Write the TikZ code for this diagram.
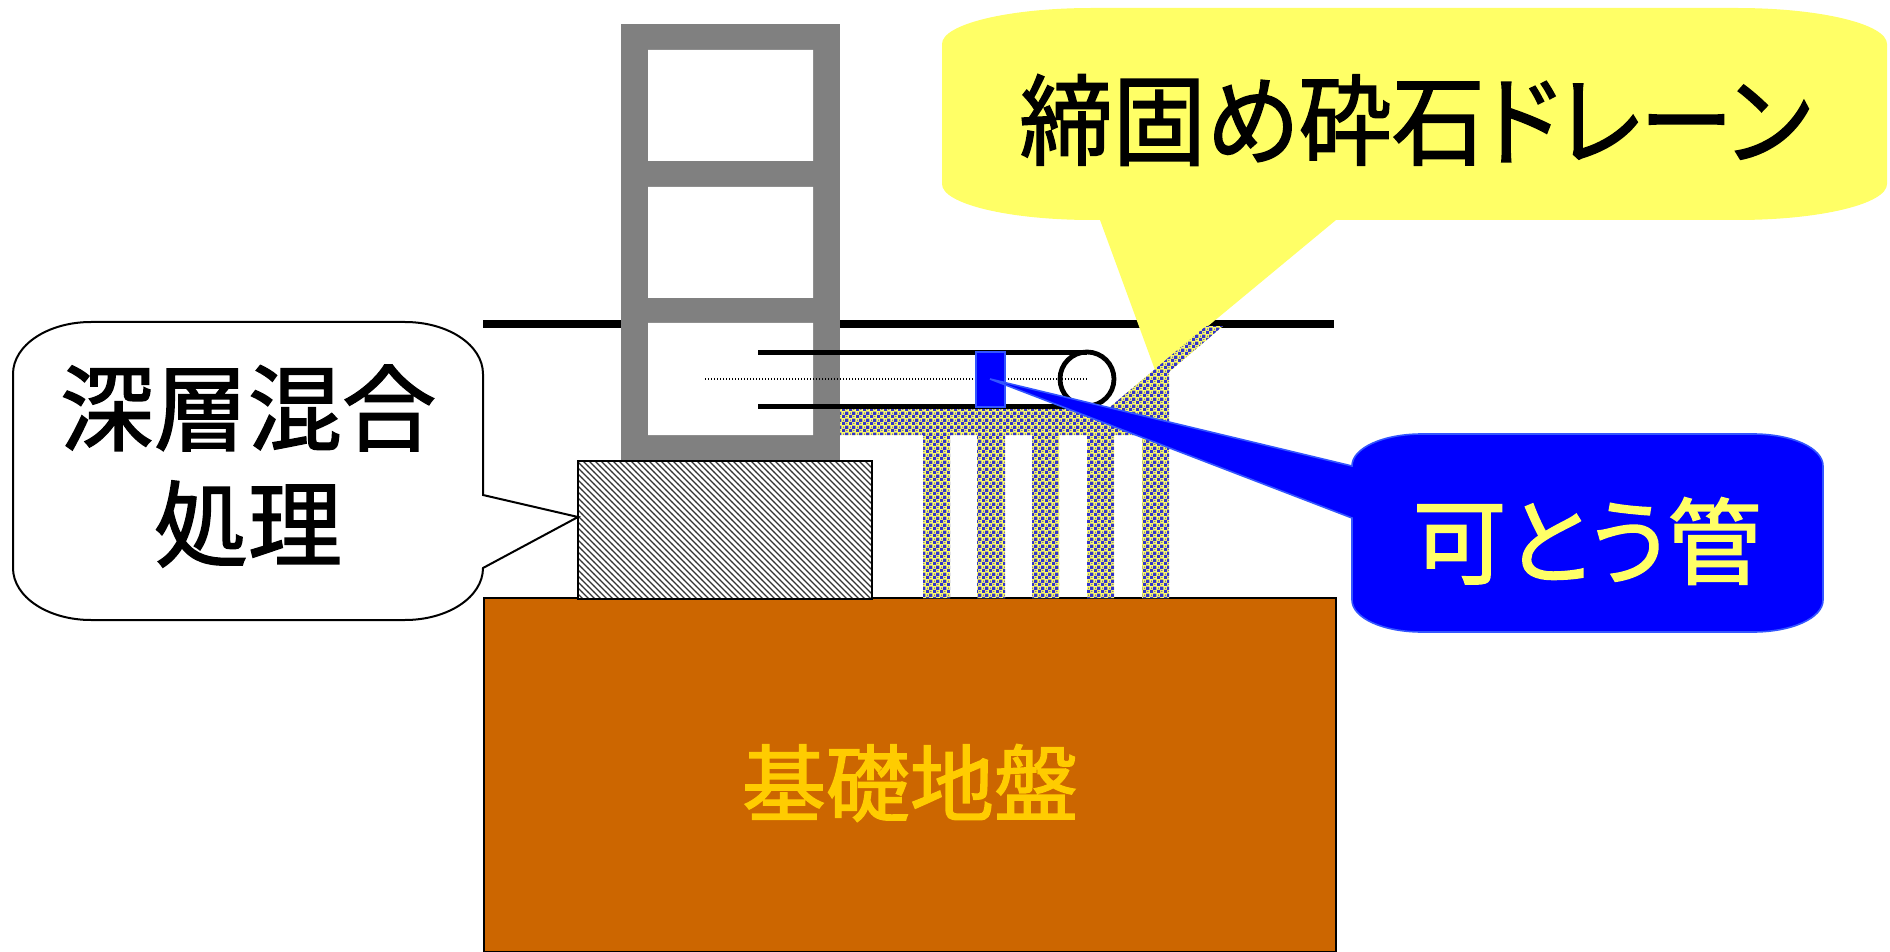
\documentclass[tikz,border=0pt]{standalone}
\usepackage{graphicx}
\usepackage{fontspec}
\newfontfamily\jp[FakeBold=1.6]{Noto Sans CJK JP}
\newfontfamily\jpp[RawFeature=+palt, FakeBold=1.6]{Noto Sans CJK JP}
\usetikzlibrary{patterns}

% dense diagonal hatching for the improved soil block
\pgfdeclarepatternformonly{densehatch}{\pgfqpoint{-1pt}{-1pt}}{\pgfqpoint{4pt}{4pt}}{\pgfqpoint{3pt}{3pt}}{
  \pgfsetlinewidth{0.6pt}
  \pgfpathmoveto{\pgfqpoint{0pt}{3pt}}
  \pgfpathlineto{\pgfqpoint{3.1pt}{-0.1pt}}
  \pgfusepath{stroke}}
% crushed stone texture: checker of stone grains
\pgfdeclarepatternformonly{gravel}{\pgfqpoint{0pt}{0pt}}{\pgfqpoint{3.6pt}{3.6pt}}{\pgfqpoint{3.6pt}{3.6pt}}{
  \pgfpathrectangle{\pgfqpoint{0pt}{0pt}}{\pgfqpoint{1.8pt}{1.8pt}}
  \pgfpathrectangle{\pgfqpoint{1.8pt}{1.8pt}}{\pgfqpoint{1.8pt}{1.8pt}}
  \pgfpathcircle{\pgfqpoint{2.7pt}{0.9pt}}{0.4pt}
  \pgfpathcircle{\pgfqpoint{0.9pt}{2.7pt}}{0.4pt}
  \pgfusepath{fill}}

\definecolor{soil}{HTML}{CC6600}
\definecolor{soiltext}{HTML}{FFCC00}
\definecolor{frame}{HTML}{808080}
\definecolor{note}{HTML}{FFFF66}
\definecolor{pipeblue}{HTML}{0000FF}
\definecolor{pipeedge}{HTML}{3355FF}
\definecolor{stone}{HTML}{3333CC}

\tikzset{
  groundline/.style={line width=3.5pt},
  pipeline/.style={line width=2.4pt},
  axisline/.style={line width=0.6pt, dash pattern=on 0.6pt off 0.9pt},
  bigtext/.style={inner sep=0pt, font=\jp\fontsize{47pt}{58pt}\selectfont, align=center},
}

\begin{document}
\begin{tikzpicture}[x=0.5pt,y=-0.5pt]
\useasboundingbox (0,0) rectangle (1890,952);

% foundation ground
\draw[fill=soil, line width=0.7pt] (484,598) rectangle (1336,952);
\node[bigtext, text=soiltext, font=\jp\fontsize{42pt}{50pt}\selectfont] (base) at (910,783) {基礎地盤};

% ground surface
\draw[groundline] (483,324) -- (1334,324);

% building frame
\fill[frame] (621,24) rectangle (840,462);
\fill[white] (648,50) rectangle (813,161)
             (648,187) rectangle (813,298)
             (648,323) rectangle (813,435);

% deep mixing block
\fill[white] (578,461) rectangle (872,599);
\fill[pattern=densehatch, pattern color=black!80] (578,461) rectangle (872,599);
\draw[line width=1pt] (578,461) rectangle (872,599);

% callout: compacted crushed stone drain
\fill[note] (1092,8) -- (1737,8) .. controls (1820,8) and (1887,24) .. (1887,44)
  -- (1887,184) .. controls (1887,204) and (1820,220) .. (1737,220)
  -- (1336,220) -- (1155,370) -- (1100,220) -- (1092,220)
  .. controls (1009,220) and (942,204) .. (942,184)
  -- (942,44) .. controls (942,24) and (1009,8) .. (1092,8) -- cycle;
\node[bigtext, font=\jpp\fontsize{48pt}{58pt}\selectfont] (drain) at (1415,120) {\scalebox{0.97}[1.03]{締固め砕石ドレーン}};

% crushed stone drain body
\path[fill=note] (840,407) -- (1110,407) -- (1206,326) -- (1223,326) -- (1169,372)
  -- (1169,598) -- (1142,598) -- (1142,435) -- (1114,435) -- (1114,598)
  -- (1087,598) -- (1087,435) -- (1059,435) -- (1059,598) -- (1032,598)
  -- (1032,435) -- (1005,435) -- (1005,598) -- (977,598) -- (977,435)
  -- (950,435) -- (950,598) -- (923,598) -- (923,435) -- (840,435) -- cycle;
\path[pattern=gravel, pattern color=stone] (840,407) -- (1110,407) -- (1206,326) -- (1223,326) -- (1169,372)
  -- (1169,598) -- (1142,598) -- (1142,435) -- (1114,435) -- (1114,598)
  -- (1087,598) -- (1087,435) -- (1059,435) -- (1059,598) -- (1032,598)
  -- (1032,435) -- (1005,435) -- (1005,598) -- (977,598) -- (977,435)
  -- (950,435) -- (950,598) -- (923,598) -- (923,435) -- (840,435) -- cycle;

% buried pipe
\coordinate (pipeend) at (1087,379);
\draw[pipeline] (758,352.5) -- (1087,352.5);
\draw[pipeline] (758,406.5) -- (1087,406.5);
\draw[axisline] (705,379) -- (pipeend);
\draw[pipeline] (pipeend) circle[radius=27];
\draw[fill=pipeblue, draw=pipeedge, line width=0.6pt] (976,352) rectangle (1005,407);
\coordinate (joint) at (990,379);

% callout: deep mixing treatment
\draw[fill=white, line width=1pt] (91,322) -- (405,322) .. controls (448,322) and (483,345) .. (483,374)
  -- (483,495) -- (578,517) -- (483,568)
  .. controls (483,597) and (448,620) .. (405,620) -- (91,620)
  .. controls (48,620) and (13,597) .. (13,568) -- (13,374)
  .. controls (13,345) and (48,322) .. (91,322) -- cycle;
\node[bigtext] (deep) at (248,466) {深層混合\\処理};

% callout: flexible pipe
\draw[fill=pipeblue, draw=pipeedge, line width=0.8pt] (1422,434) -- (1753,434)
  .. controls (1792,434) and (1823,448) .. (1823,466) -- (1823,600)
  .. controls (1823,618) and (1792,632) .. (1753,632) -- (1422,632)
  .. controls (1383,632) and (1352,618) .. (1352,600) -- (1352,518)
  -- (joint) -- (1352,466) .. controls (1352,448) and (1383,434) .. (1422,434) -- cycle;
\node[bigtext, text=note, font=\jpp\fontsize{47pt}{58pt}\selectfont] (flex) at (1587,541) {可とう管};
\end{tikzpicture}
\end{document}
